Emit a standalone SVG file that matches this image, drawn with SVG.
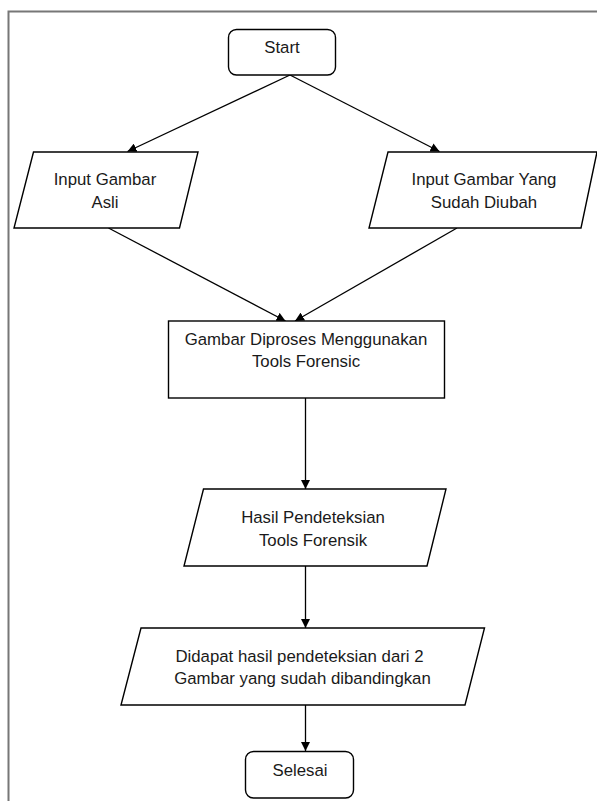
<svg xmlns="http://www.w3.org/2000/svg" width="597" height="801" viewBox="0 0 597 801">
<style>
.shape{fill:#fff;stroke:#000;stroke-width:1.4}
.lbl{font-family:"Liberation Sans",Arial,sans-serif;font-size:16.8px;fill:#1a1a1a;text-anchor:middle;dominant-baseline:central}
.conn{stroke:#000;stroke-width:1.3;fill:none;marker-end:url(#arr)}
.frame{stroke:#777;stroke-width:2;fill:none}
</style>
<defs>
<marker id="arr" markerUnits="userSpaceOnUse" markerWidth="10" markerHeight="9" refX="9" refY="4.5" orient="auto">
<path d="M0,0 L9,4.5 L0,9 z" fill="#000"/>
</marker>
</defs>
<rect width="597" height="801" fill="#fff"/>
<path class="frame" d="M8.5,801 V11.5 H597"/>
<g id="connectors">
<line class="conn" x1="290" y1="75" x2="127.5" y2="151.5"/>
<line class="conn" x1="290" y1="75" x2="439.5" y2="151.5"/>
<line class="conn" x1="108.5" y1="228" x2="285.5" y2="321"/>
<line class="conn" x1="457" y1="228" x2="295" y2="321"/>
<line class="conn" x1="305.5" y1="398" x2="305.5" y2="489"/>
<line class="conn" x1="305.5" y1="566" x2="305.5" y2="628"/>
<line class="conn" x1="305.5" y1="705" x2="305.5" y2="751"/>
</g>
<g id="start">
<rect class="shape" x="228.5" y="29.5" width="107" height="45.5" rx="8"/>
<text class="lbl" x="282" y="47">Start</text>
</g>
<g id="input-asli">
<polygon class="shape" points="33.5,152 198,152 179.5,228 14,228"/>
<text class="lbl" x="105" y="179">Input Gambar</text>
<text class="lbl" x="105" y="202">Asli</text>
</g>
<g id="input-diubah">
<polygon class="shape" points="388,152 597,152 581,228 369,228"/>
<text class="lbl" x="484" y="179">Input Gambar Yang</text>
<text class="lbl" x="484" y="202">Sudah Diubah</text>
</g>
<g id="proses">
<rect class="shape" x="168.5" y="321" width="276" height="77"/>
<text class="lbl" x="306" y="339">Gambar Diproses Menggunakan</text>
<text class="lbl" x="306" y="361">Tools Forensic</text>
</g>
<g id="hasil">
<polygon class="shape" points="203.5,489 446,489 427,566 184,566"/>
<text class="lbl" x="313" y="517">Hasil Pendeteksian</text>
<text class="lbl" x="313" y="540">Tools Forensik</text>
</g>
<g id="didapat">
<polygon class="shape" points="141,628 484.5,628 465,705 121,705"/>
<text class="lbl" x="299.5" y="656">Didapat hasil pendeteksian dari 2</text>
<text class="lbl" x="302.5" y="678">Gambar yang sudah dibandingkan</text>
</g>
<g id="selesai">
<rect class="shape" x="245.5" y="751.5" width="108" height="46.5" rx="8"/>
<text class="lbl" x="300" y="770">Selesai</text>
</g>
</svg>
